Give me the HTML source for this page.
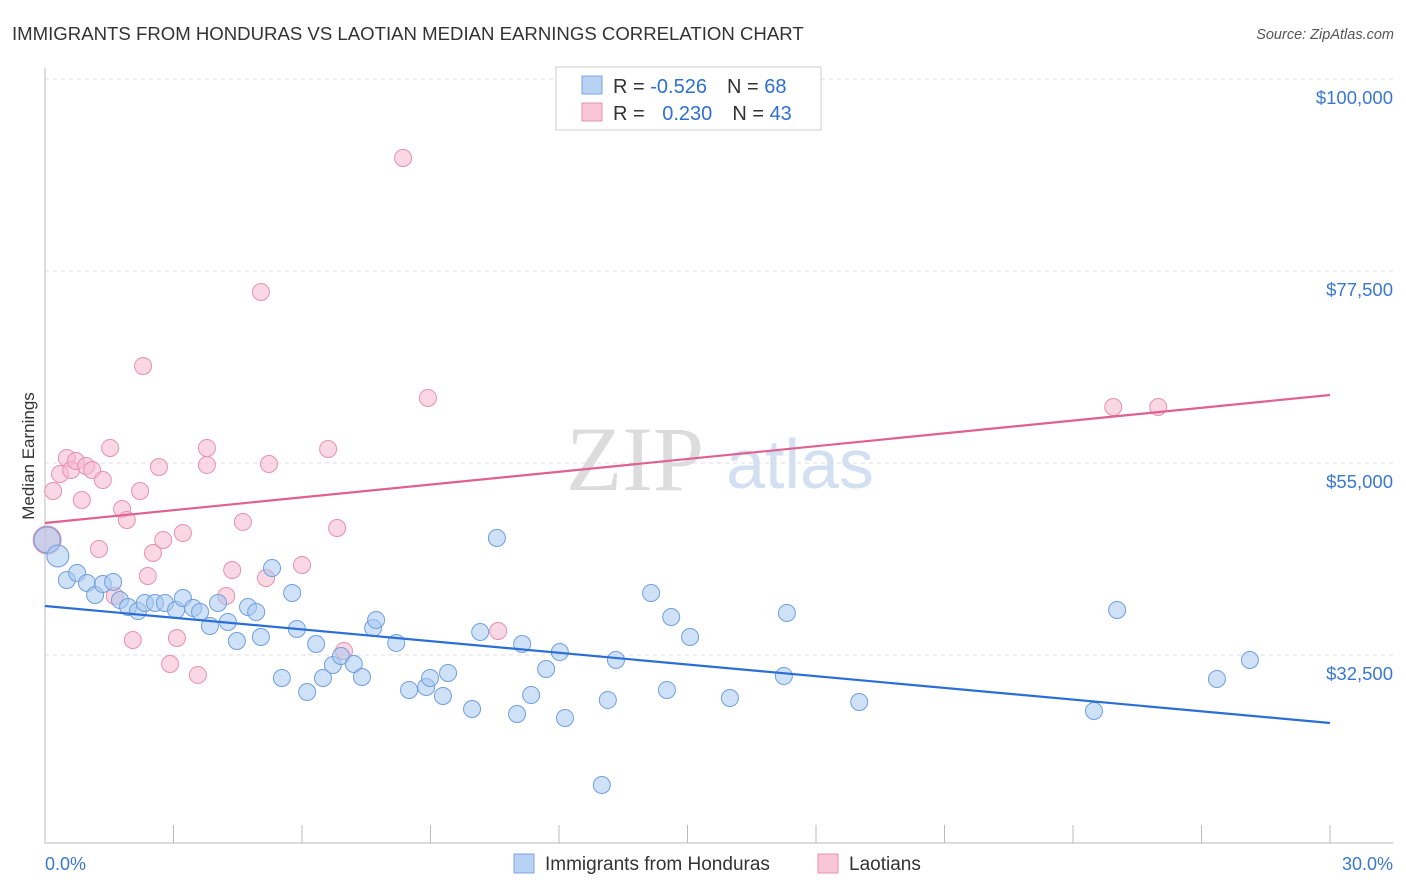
<!DOCTYPE html>
<html><head><meta charset="utf-8"><style>
body{margin:0;background:#fff;font-family:"Liberation Sans",sans-serif;}
svg{display:block}
</style></head><body>
<svg id="c" width="1406" height="892" xmlns="http://www.w3.org/2000/svg">
<text x="12" y="40" font-size="18.6" fill="#333">IMMIGRANTS FROM HONDURAS VS LAOTIAN MEDIAN EARNINGS CORRELATION CHART</text>
<text x="1394" y="39" font-size="14.5" fill="#555" text-anchor="end" font-style="italic">Source: ZipAtlas.com</text>
<g><text x="635" y="490" font-size="92" fill="#dcdcdc" text-anchor="middle" font-family="Liberation Serif, serif">ZIP</text><text x="800" y="488" font-size="70" fill="#d2e0f2" text-anchor="middle">atlas</text></g>
<text transform="translate(34,456) rotate(-90)" font-size="17" fill="#333" text-anchor="middle">Median Earnings</text>
<g id="grid"></g><g id="marks"></g>
<g>
<rect x="556" y="67" width="265" height="63" fill="#fff" stroke="#ccc"/>
<rect x="582" y="76" width="20" height="18" fill="#b8d2f4" stroke="#7aa6e0"/>
<rect x="582" y="103" width="20" height="18" fill="#f8c6d6" stroke="#e890ae"/>
<text x="613" y="93" font-size="20" fill="#333">R = <tspan fill="#2f6fd0">-0.526</tspan><tspan dx="20">N = </tspan><tspan fill="#2f6fd0">68</tspan></text>
<text x="613" y="120" font-size="20" fill="#333">R = <tspan dx="12" fill="#2f6fd0">0.230</tspan><tspan dx="20">N = </tspan><tspan fill="#2f6fd0">43</tspan></text>
</g>
<g>
<rect x="514" y="854" width="20" height="19" fill="#b8d2f4" stroke="#7aa6e0"/>
<text x="545" y="870" font-size="19" fill="#333">Immigrants from Honduras</text>
<rect x="818" y="854" width="20" height="19" fill="#f8c6d6" stroke="#e890ae"/>
<text x="849" y="870" font-size="19" fill="#333">Laotians</text>
</g>
</svg>
<script>
const yTicks=[100000,77500,55000,32500];
const yTickLabels=["$100,000","$77,500","$55,000","$32,500"];
const xTickLabels=["0.0%","30.0%"];
const hondX=[0.05,0.30,0.51,0.75,0.98,1.17,1.35,1.59,1.75,1.94,2.17,2.33,2.57,2.80,3.06,3.22,3.46,3.62,3.85,4.04,4.27,4.48,4.74,4.93,5.04,5.30,5.53,5.77,5.88,6.12,6.33,6.49,6.72,6.91,7.21,7.40,7.66,7.73,8.20,8.50,8.90,8.99,9.29,9.41,9.97,10.16,10.55,11.02,11.14,11.35,11.70,12.02,12.14,13.00,13.14,13.33,14.15,14.52,14.62,15.06,15.99,17.25,17.32,19.01,24.49,25.03,27.36,28.13];
const hondY=[45.98,44.10,41.29,42.11,40.94,39.53,40.82,41.05,38.94,38.12,37.65,38.59,38.59,38.59,37.77,39.18,38.01,37.54,35.90,38.59,36.37,34.14,38.12,37.54,34.61,42.69,29.80,39.76,35.55,28.16,33.79,29.80,31.33,32.38,31.44,29.92,35.66,36.60,33.91,28.40,28.75,29.80,27.69,30.39,26.17,35.19,46.21,25.58,33.79,27.81,30.86,32.85,25.12,17.26,27.23,31.91,39.76,28.40,36.95,34.61,27.46,30.04,37.42,26.99,25.94,37.77,29.69,31.91];
const laoX=[0.05,0.19,0.35,0.51,0.61,0.72,0.86,0.96,1.10,1.26,1.35,1.52,1.63,1.80,1.91,2.05,2.22,2.29,2.40,2.52,2.66,2.76,2.92,3.08,3.22,3.57,3.78,3.78,4.23,4.37,4.62,5.04,5.16,5.23,6.00,6.61,6.82,6.98,8.36,8.94,10.58,24.94,25.99];
const laoY=[45.98,51.72,53.71,55.58,54.18,55.23,50.66,54.65,54.18,44.92,53.01,56.76,39.41,49.61,48.32,34.26,51.72,66.37,41.76,44.45,54.53,45.98,31.44,34.49,46.80,30.16,56.76,54.77,39.41,42.46,48.09,75.04,41.52,54.88,43.05,56.64,47.38,32.97,90.74,62.62,35.31,61.56,61.56];
const hondTrend=[38.24,24.53];
const laoTrend=[47.97,62.97];
const trendX=[0,30];
const NS="http://www.w3.org/2000/svg";
const sx=v=>45+v*42.833;
const sy=k=>79+(100-k)*8.533;
function mk(t,a,p){const e=document.createElementNS(NS,t);for(const k in a)e.setAttribute(k,a[k]);p.appendChild(e);return e;}
const g=document.getElementById('grid'),m=document.getElementById('marks');
yTicks.forEach((v,i)=>{const y=sy(v/1000);
const l=mk('line',{x1:45,x2:1393,y1:y,y2:y,stroke:'#ddd','stroke-dasharray':'4,4'},g);

const t=mk('text',{x:1393,y:y+25,'font-size':18.5,fill:'#3a78d0','text-anchor':'end'},g);t.textContent=yTickLabels[i];
});
const ax=mk('path',{d:'M45,68V843H1393',stroke:'#bbb',fill:'none'},g);

for(let i=0;i<=10;i++){const x=sx(i*3);const tk=mk('line',{x1:x,x2:x,y1:825,y2:843,stroke:'#bbb'},g);
}
[[0,'start',45],[1,'end',1393]].forEach(([i,a,x])=>{const t=mk('text',{x:x,y:870,'font-size':18,fill:'#3a78d0','text-anchor':a},g);t.textContent=xTickLabels[i];
});
function pts(X,Y,fill,stroke,name,big){X.forEach((x,i)=>{const c=mk('circle',{cx:sx(x),cy:sy(Y[i]),r:(big[i]||8.5),fill:fill,'fill-opacity':0.55,stroke:stroke,'stroke-width':1},m);
});}
pts(laoX,laoY,'#f5b8cc','#e890ae','laotians-point',{0:14});
pts(hondX,hondY,'#a8c8f0','#6f9fe0','honduras-point',{0:13,1:11});
const l1=mk('line',{x1:sx(trendX[0]),x2:sx(trendX[1]),y1:sy(hondTrend[0]),y2:sy(hondTrend[1]),stroke:'#2b6fd6','stroke-width':2.2},m);

const l2=mk('line',{x1:sx(trendX[0]),x2:sx(trendX[1]),y1:sy(laoTrend[0]),y2:sy(laoTrend[1]),stroke:'#e06090','stroke-width':2.2},m);

</script>
</body></html>
